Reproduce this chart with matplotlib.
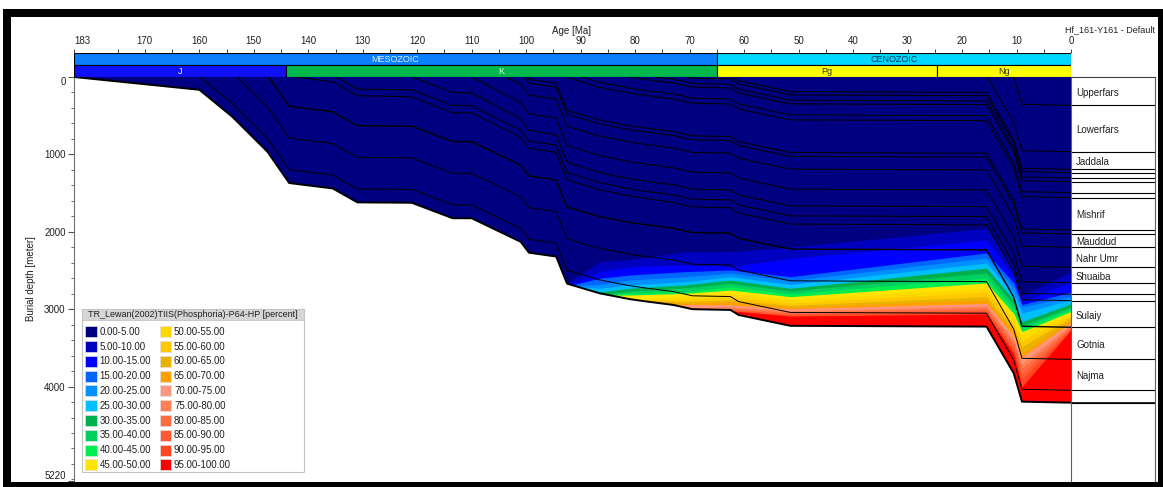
import matplotlib
matplotlib.use("Agg")
import matplotlib.pyplot as plt
from matplotlib.patches import Polygon, Rectangle
from matplotlib.ticker import FixedLocator
import numpy as np

plt.rcParams["font.family"] = ["Liberation Sans", "DejaVu Sans"]

# ---- burial history: base of model, age [Ma] -> depth [m]
key_age = [183, 160, 154, 147.5, 143.5, 135.5, 131, 121, 113.5, 110, 101, 99.5, 94.5,
           92.5, 86.5, 81, 78, 73, 69.5, 62.5, 61, 51.5, 15.5, 10.5, 9, 0]
basement_depth = [0, 165, 510, 965, 1370, 1440, 1620, 1625, 1825, 1825, 2130, 2270, 2320,
                  2670, 2795, 2870, 2900, 2945, 3000, 3010, 3075, 3215, 3225, 3830, 4195, 4208]

# horizon tops, top to bottom: deposition age + depths at the youngest key ages
horizon_dep_age = [10.45, 15.35, 62.1, 70.5, 76.2, 81.15, 89.8, 92.55, 99.8, 100.4,
                   103.7, 110, 121, 134.9, 142.6, 147.25, 153.0, 159.9]
hz01 = [353, 366]
hz02 = [587, 952, 965]
hz03 = [48, 188, 198, 810, 1180, 1193]
hz04 = [16, 26, 91, 231, 241, 852, 1223, 1236]
hz05 = [29, 84, 94, 159, 299, 309, 920, 1292, 1305]
hz06 = [32, 77, 132, 142, 207, 347, 357, 968, 1340, 1353]
hz07 = [69, 144, 174, 219, 274, 284, 349, 489, 499, 1110, 1482, 1495]
hz08 = [134, 209, 239, 284, 339, 349, 414, 554, 564, 1175, 1546, 1559]
hz09 = [30, 80, 430, 555, 630, 660, 705, 760, 770, 835, 975, 985, 1595, 1964, 1977]
hz10 = [81, 131, 481, 606, 681, 711, 756, 811, 821, 886, 1026, 1036, 1645, 2015, 2028]
hz11 = [90, 232, 284, 636, 763, 840, 872, 918, 974, 984, 1049, 1190, 1201, 1812, 2187, 2200]
hz12 = [330, 475, 530, 885, 1015, 1094, 1126, 1173, 1230, 1241, 1307, 1449, 1459, 2070, 2446, 2459]
hz13 = [200, 205, 540, 690, 745, 1100, 1235, 1315, 1347, 1393, 1449, 1459, 1524, 1665, 1675,
        2280, 2645, 2658]
hz14 = [155, 165, 370, 370, 685, 830, 880, 1235, 1365, 1445, 1478, 1523, 1578, 1588, 1653,
        1794, 1804, 2420, 2795, 2808]
hz15 = [62, 242, 255, 463, 463, 778, 922, 975, 1328, 1457, 1536, 1570, 1619, 1678, 1690, 1757,
        1900, 1911, 2515, 2877, 2890]
hz16 = [379, 449, 629, 634, 834, 834, 1139, 1279, 1329, 1679, 1804, 1879, 1909, 1954, 2009,
        2019, 2084, 2224, 2234, 2845, 3221, 3234]
hz17 = [384, 789, 859, 1039, 1044, 1244, 1244, 1549, 1689, 1739, 2089, 2214, 2289, 2319, 2364,
        2419, 2429, 2494, 2634, 2644, 3260, 3635, 3648]
hz18 = [337, 792, 1197, 1267, 1447, 1452, 1652, 1652, 1957, 2097, 2147, 2497, 2622, 2697, 2727,
        2772, 2827, 2837, 2902, 3042, 3052, 3660, 4035, 4048]
horizons = [hz01, hz02, hz03, hz04, hz05, hz06, hz07, hz08, hz09, hz10, hz11, hz12,
            hz13, hz14, hz15, hz16, hz17, hz18]

# formations shown in the present-day column
form_names = ["Upperfars", "Lowerfars", "Jaddala", "Mishrif", "Mauddud", "Nahr Umr",
              "Shuaiba", "Sulaiy", "Gotnia", "Najma"]
form_top = [0, 366, 965, 1559, 2028, 2200, 2459, 2890, 3234, 3648]
form_base = [366, 965, 1193, 1977, 2200, 2459, 2658, 3234, 3648, 4048]

# transformation ratio isolines [m] at these ages (levels 5 ... 95 %)
tr_age = [94.5, 92.5, 86.5, 81, 71, 62.5, 51.5, 15.5, 10.5, 9, 0]
tr05 = [2400, 2660, 2390, 2360, 2260, 2257, 2200, 1955, 2470, 2820, 2520]
tr10 = [2400, 2700, 2515, 2450, 2430, 2450, 2345, 2106, 2580, 2900, 2650]
tr15 = [2400, 2700, 2600, 2558, 2515, 2494, 2580, 2274, 2660, 2940, 2780]
tr20 = [2400, 2700, 2680, 2623, 2580, 2536, 2630, 2339, 2720, 2970, 2840]
tr25 = [2400, 2700, 2730, 2687, 2645, 2580, 2680, 2403, 2800, 3050, 2880]
tr30 = [2400, 2700, 2775, 2730, 2687, 2623, 2730, 2468, 2880, 3160, 2930]
tr35 = [2400, 2700, 2820, 2765, 2726, 2665, 2765, 2532, 2940, 3210, 2970]
tr40 = [2400, 2700, 2820, 2791, 2774, 2710, 2800, 2597, 3000, 3250, 3000]
tr45 = [2400, 2700, 2820, 2817, 2797, 2752, 2838, 2661, 3060, 3290, 3030]
tr50 = [2400, 2700, 2820, 2880, 2838, 2795, 2880, 2726, 3120, 3333, 3060]
tr55 = [2400, 2700, 2820, 2880, 2875, 2838, 2920, 2778, 3190, 3410, 3090]
tr60 = [2400, 2700, 2820, 2880, 2903, 2880, 2950, 2838, 3250, 3484, 3110]
tr65 = [2400, 2700, 2820, 2880, 2926, 2903, 2970, 2881, 3300, 3560, 3140]
tr70 = [2400, 2700, 2820, 2880, 2946, 2945, 2995, 2926, 3350, 3620, 3170]
tr75 = [2400, 2700, 2820, 2880, 2988, 2970, 3020, 2959, 3400, 3700, 3200]
tr80 = [2400, 2700, 2820, 2880, 3000, 2988, 3040, 2985, 3440, 3760, 3220]
tr85 = [2400, 2700, 2820, 2880, 3000, 3005, 3060, 3010, 3480, 3830, 3240]
tr90 = [2400, 2700, 2820, 2880, 3000, 3020, 3075, 3036, 3530, 3900, 3255]
tr95 = [2400, 2700, 2820, 2880, 3000, 3020, 3090, 3062, 3580, 4000, 3270]
tr_isolines = [tr05, tr10, tr15, tr20, tr25, tr30, tr35, tr40, tr45, tr50,
               tr55, tr60, tr65, tr70, tr75, tr80, tr85, tr90, tr95]
tr_levels = list(range(0, 105, 5))
tr_colors = ["#000080", "#0000c0", "#0000ff", "#0066ff", "#0090ff", "#00bfff",
             "#00b04c", "#00d060", "#00ee50", "#ffe400", "#ffd800", "#ffc800",
             "#e8b400", "#ffa000", "#ff9680", "#ff8056", "#ff6c44", "#ff5a34",
             "#ff4622", "#ff0000"]

# stratigraphic bars
era_names = ["MESOZOIC", "CENOZOIC"]
era_bounds = [183, 65, 0]
period_names = ["J", "K", "Pg", "Ng"]
period_bounds = [183, 144, 65, 24.6, 0]

W, H = 1163, 487
fig = plt.figure(figsize=(W / 100, H / 100), dpi=100)


def fx(x):
    return x / W


def fy(y):
    return 1 - y / H


def px_rect(x0, y0, x1, y1):
    return [fx(x0), fy(y1), fx(x1) - fx(x0), fy(y0) - fy(y1)]


# ---- main burial plot
ax = fig.add_axes(px_rect(74, 77, 1071, 481))
ax.set_xlim(183, 0)
ax.set_ylim(5220, 0)

sect = np.column_stack([key_age + key_age[::-1], [0] * len(key_age) + basement_depth[::-1]])
clip = Polygon(sect, closed=True, transform=ax.transData)
ax.add_patch(Polygon(sect, closed=True, facecolor=tr_colors[0], edgecolor="none", zorder=1))

for k, iso in enumerate(tr_isolines):
    fb = ax.fill_between(tr_age, iso, 6000, color=tr_colors[k + 1], lw=0, zorder=2)
    fb.set_clip_path(clip)

for i, d in enumerate(horizons):
    ages = [horizon_dep_age[i]] + key_age[len(key_age) - len(d):]
    depths = [0] + d
    lw = 1.0 if i == 15 else 0.7
    ax.plot(ages, depths, color="black", lw=lw, zorder=3, solid_joinstyle="miter")
ax.plot(key_age, basement_depth, color="black", lw=1.4, zorder=4)

for s in ["top", "right", "bottom"]:
    ax.spines[s].set_visible(False)
ax.spines["left"].set_color("#707070")
ax.set_xticks([])
ax.yaxis.set_major_locator(FixedLocator([0, 1000, 2000, 3000, 4000, 5220]))
ax.yaxis.set_minor_locator(FixedLocator(list(range(200, 5220, 200))))
ax.set_yticklabels(["0", "1000", "2000", "3000", "4000", "5220"])
ax.tick_params(axis="y", which="major", length=4, width=0.8, color="#505050",
               labelsize=7, pad=2, labelcolor="#202020")
ax.tick_params(axis="y", which="minor", length=2, width=0.6, color="#505050")
ylabels = ax.get_yticklabels()
ylabels[0].set_va("top")
ylabels[-1].set_va("bottom")
ax.set_ylabel("Burial depth [meter]", fontsize=7, color="#202020", labelpad=6)

# ---- era / period bars with age ticks
axb = fig.add_axes(px_rect(74, 53, 1071, 77))
axb.set_xlim(183, 0)
axb.set_ylim(0, 2)
era_face = ["#0a80ff", "#00d8ff"]
era_text = ["#d8ecff", "#003050"]
for i, name in enumerate(era_names):
    a0, a1 = era_bounds[i], era_bounds[i + 1]
    axb.barh(1.5, a1 - a0, left=a0, height=1, color=era_face[i], edgecolor="black", lw=0.8)
    axb.text((a0 + a1) / 2, 1.5, name, ha="center", va="center", fontsize=6.5, color=era_text[i])
per_face = ["#1010f8", "#00b84c", "#ffff00", "#ffff00"]
per_text = ["white", "#e0ffe0", "#303000", "#303000"]
for i, name in enumerate(period_names):
    a0, a1 = period_bounds[i], period_bounds[i + 1]
    axb.barh(0.5, a1 - a0, left=a0, height=1, color=per_face[i], edgecolor="black", lw=0.8)
    axb.text((a0 + a1) / 2, 0.5, name, ha="center", va="center", fontsize=6.5, color=per_text[i])
for s in axb.spines.values():
    s.set_visible(False)
axb.set_yticks([])
axb.xaxis.tick_top()
axb.xaxis.set_major_locator(FixedLocator([183] + list(range(170, -1, -10))))
axb.xaxis.set_minor_locator(FixedLocator(list(range(175, 0, -10))))
axb.set_xticklabels(["183"] + [str(a) for a in range(170, -1, -10)])
axb.tick_params(axis="x", which="both", length=3, width=0.7, color="#404040",
                labelsize=7, pad=2, labelcolor="#202020")
axb.get_xticklabels()[0].set_ha("left")
fig.text(fx(572), fy(31), "Age [Ma]", ha="center", va="center", fontsize=7, color="#202020")
fig.text(fx(1155), fy(30), "Hf_161-Y161 - Default", ha="right", va="center",
         fontsize=6.5, color="#202020")

# ---- present-day formation column
axc = fig.add_axes(px_rect(1071, 77, 1155, 481))
axc.set_xlim(0, 1)
axc.set_ylim(5220, 0)
axc.set_xticks([])
axc.set_yticks([])
axc.spines["bottom"].set_visible(False)
axc.spines["left"].set_color("#606060")
axc.spines["right"].set_color("#606060")
axc.spines["top"].set_color("#404040")
present = [d[-1] for d in horizons] + [basement_depth[-1]]
axc.hlines(present, 0, 1, color="black", lw=0.8)
axc.hlines(basement_depth[-1], 0, 1, color="black", lw=1.2)
for name, t, b in zip(form_names, form_top, form_base):
    axc.text(0.06, (t + b) / 2 + 20, name, ha="left", va="center", fontsize=7, color="#202020")

# ---- legend
fig.patches.append(Rectangle((fx(82), fy(472)), fx(304) - fx(82), fy(309) - fy(472),
                             transform=fig.transFigure, facecolor="white",
                             edgecolor="#c4c4c4", lw=0.8, zorder=5))
fig.patches.append(Rectangle((fx(82), fy(320)), fx(304) - fx(82), fy(309) - fy(320),
                             transform=fig.transFigure, facecolor="#d6d6d6",
                             edgecolor="#c4c4c4", lw=0.6, zorder=5))
fig.text(fx(193), fy(314.5), "TR_Lewan(2002)TIIS(Phosphoria)-P64-HP [percent]",
         ha="center", va="center", fontsize=6.5, color="#202020", zorder=6)
for i in range(20):
    col, row = divmod(i, 10)
    sx = 85 if col == 0 else 159.5
    cy = 331.7 + row * 14.8
    fig.patches.append(Rectangle((fx(sx), fy(cy + 5.5)), fx(11.5), fy(0) - fy(11),
                                 transform=fig.transFigure, facecolor=tr_colors[i],
                                 edgecolor="#e0e0e0", lw=0.5, zorder=6))
    fig.text(fx(sx + 14.5), fy(cy), f"{tr_levels[i]:.2f}-{tr_levels[i + 1]:.2f}",
             ha="left", va="center", fontsize=7, color="#202020", zorder=6)

# ---- black frame
for r in [(3, 9, 1162, 17), (3, 9, 11, 487), (1158, 9, 1163, 487), (3, 482, 1163, 487)]:
    x0, y0, x1, y1 = r
    fig.patches.append(Rectangle((fx(x0), fy(y1)), fx(x1) - fx(x0), fy(y0) - fy(y1),
                                 transform=fig.transFigure, facecolor="black",
                                 edgecolor="none", zorder=10))

fig.savefig("out.png", dpi=100)
